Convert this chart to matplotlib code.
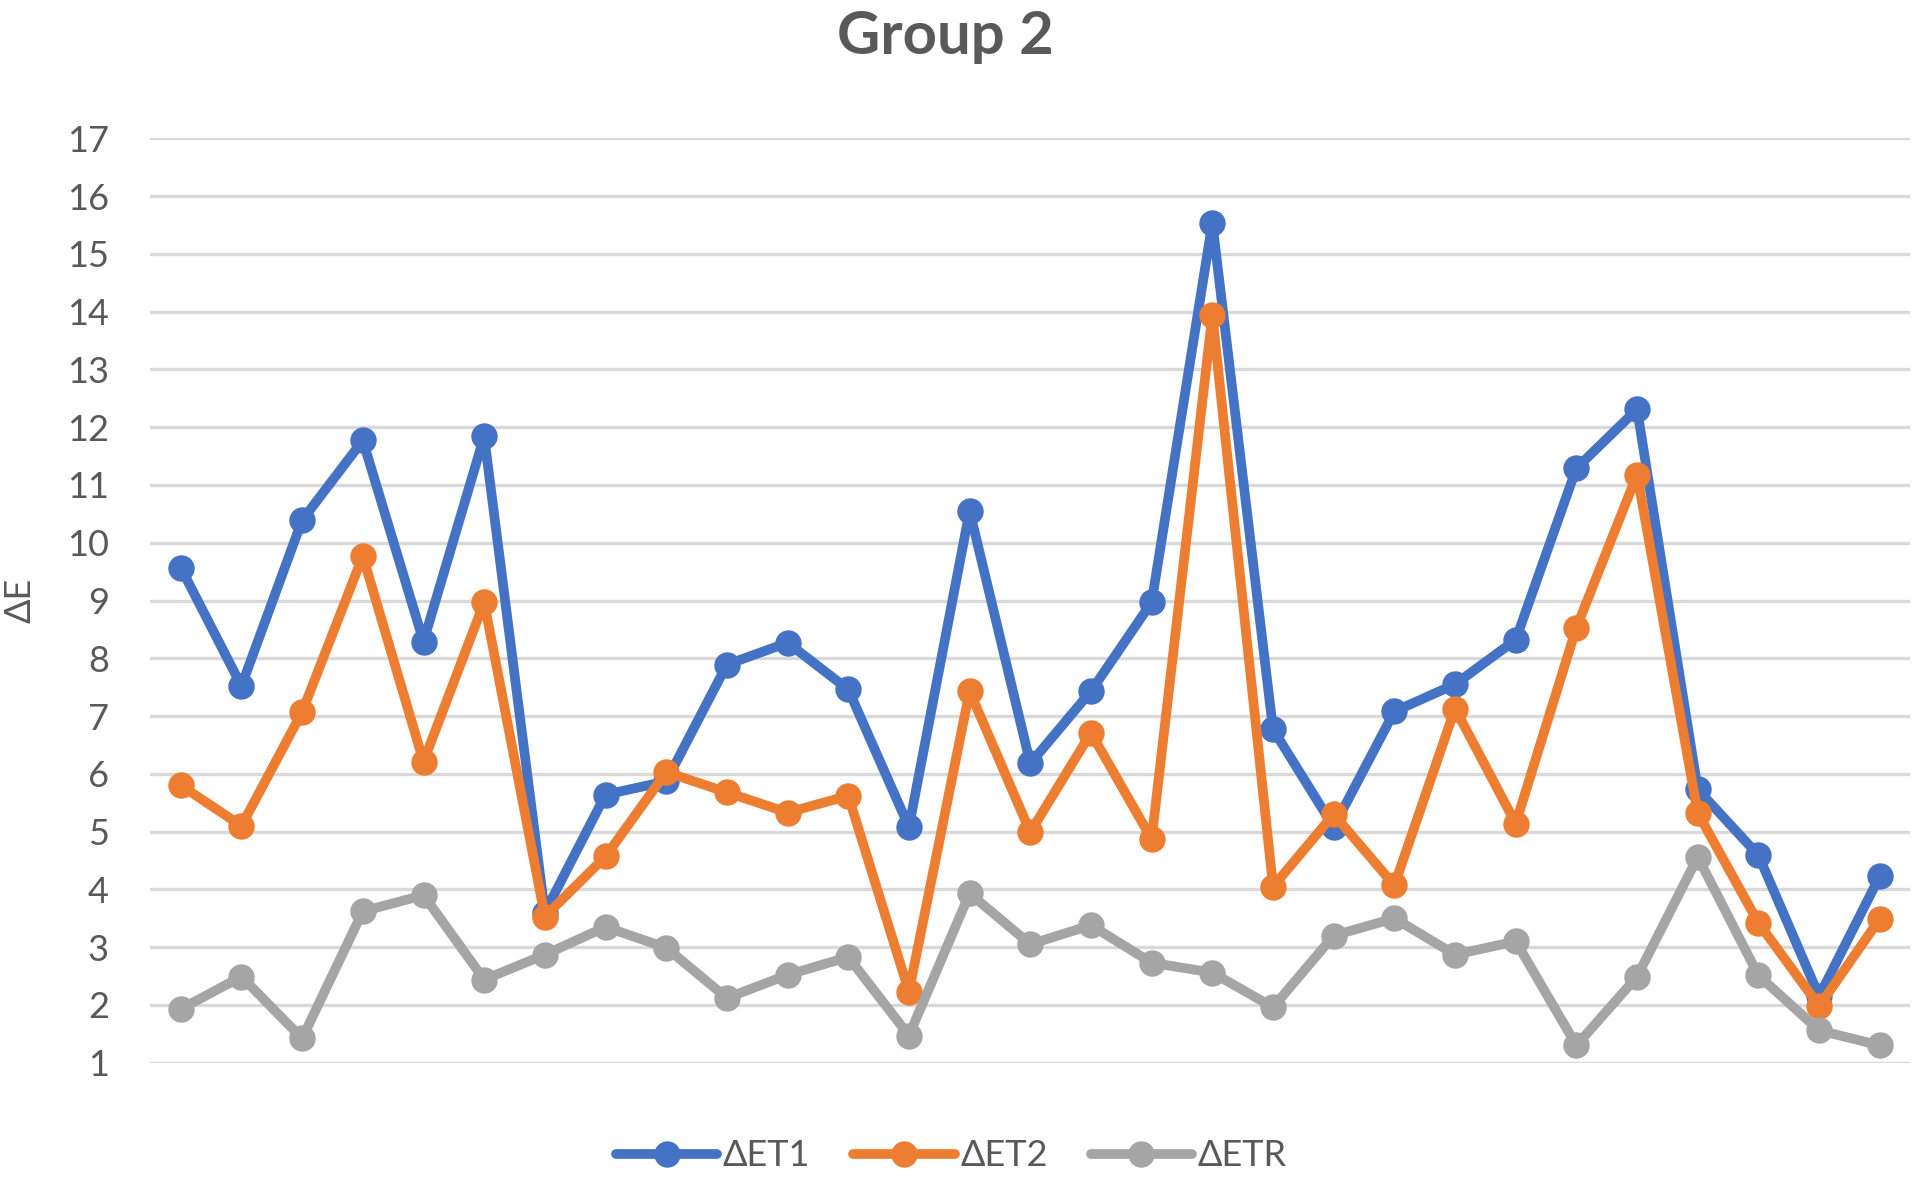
import matplotlib.pyplot as plt
import numpy as np

plt.rcParams['font.family'] = ['Lato', 'DejaVu Sans']

title = "Group 2"
ylab = "ΔE"
names = ["ΔET1", "ΔET2", "ΔETR"]
colors = ["#4472C4", "#ED7D31", "#A5A5A5"]

det1 = [9.57, 7.52, 10.39, 11.77, 8.29, 11.84, 3.60, 5.64, 5.87, 7.89,
        8.27, 7.46, 5.08, 10.55, 6.18, 7.43, 8.97, 15.54, 6.77, 5.08,
        7.08, 7.55, 8.32, 11.29, 12.31, 5.73, 4.59, 2.15, 4.23]
det2 = [5.80, 5.10, 7.07, 9.77, 6.21, 8.97, 3.53, 4.57, 6.03, 5.68,
        5.33, 5.62, 2.23, 7.43, 4.99, 6.71, 4.87, 13.94, 4.05, 5.30,
        4.07, 7.13, 5.14, 8.53, 11.18, 5.32, 3.42, 1.98, 3.49]
detr = [1.93, 2.49, 1.42, 3.62, 3.90, 2.44, 2.87, 3.35, 2.99, 2.12,
        2.52, 2.83, 1.47, 3.93, 3.05, 3.38, 2.73, 2.56, 1.96, 3.20,
        3.50, 2.87, 3.10, 1.30, 2.49, 4.56, 2.51, 1.56, 1.30]

yticks = list(range(1, 18))
txt = "#595959"

fig = plt.figure(figsize=(19.14, 11.89), dpi=100)
ax = fig.add_axes([0.0786, 0.1062, 0.9194, 0.7775])

x = np.arange(len(det1))
for vals, nm, col in zip([det1, det2, detr], names, colors):
    ax.plot(x, vals, color=col, lw=7, marker='o', ms=18, label=nm,
            solid_capstyle='round', solid_joinstyle='round')

ax.set_xlim(-0.5, len(det1) - 0.5)
ax.set_ylim(1, 17)
ax.set_yticks(yticks)
ax.set_xticks([])
ax.grid(axis='y', color='#D9D9D9', lw=2.4, zorder=0)
ax.set_axisbelow(True)
for s in ax.spines.values():
    s.set_visible(False)
ax.tick_params(axis='y', length=0, pad=30, labelsize=26, labelcolor=txt)
ax.set_ylabel(ylab, fontsize=26, color=txt)
ax.yaxis.set_label_coords(-0.065, 0.5)

fig.text(0.494, 0.969, title, ha='center', va='center', fontsize=43,
         fontweight='bold', color=txt)

leg = fig.legend(loc='center', bbox_to_anchor=(0.497, 0.028), ncol=3,
                 frameon=False, fontsize=26, handlelength=2.8,
                 handletextpad=0.15, columnspacing=1.2, markerscale=1.0)
for t in leg.get_texts():
    t.set_color(txt)

plt.savefig("out.png", dpi=100)
